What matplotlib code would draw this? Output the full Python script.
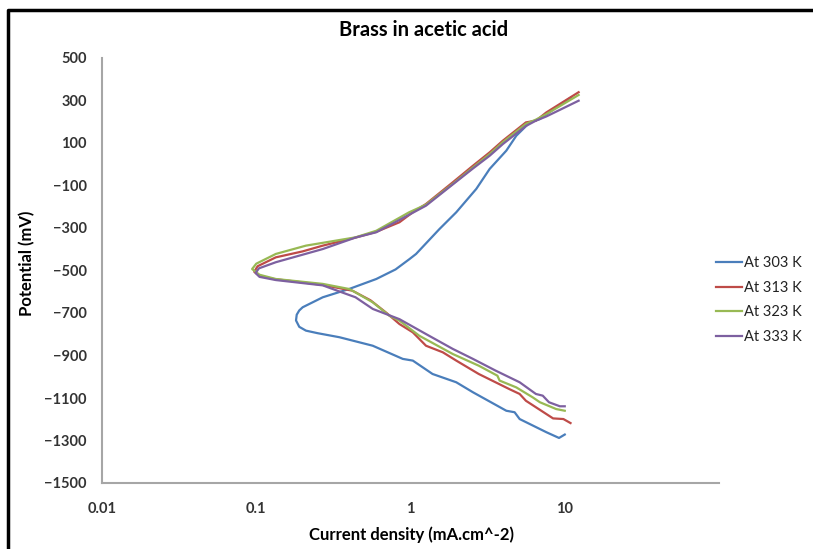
import matplotlib
matplotlib.use("Agg")
import matplotlib.pyplot as plt
from matplotlib.lines import Line2D

plt.rcParams['font.family'] = ['Lato', 'DejaVu Sans']

labels = ["At 303 K", "At 313 K", "At 323 K", "At 333 K"]
colors = ["#4A7EBB", "#BE4B48", "#98B954", "#7D60A0"]

# current density (mA/cm2) and potential (mV), cathodic end -> anodic end
cd_303 = [10.0, 9.18, 7.6, 5.1, 4.73, 4.18, 2.54, 1.98, 1.39, 1.035, 0.891, 0.569,
          0.346, 0.25, 0.21, 0.19, 0.181, 0.183, 0.19, 0.20, 0.27, 0.40, 0.60, 0.80, 0.986,
          1.087, 1.54, 1.98, 2.67, 3.26, 4.18, 4.85, 5.93, 6.9, 8.5, 11.0]
mv_303 = [-1272, -1288, -1261, -1199, -1167, -1160, -1073, -1026, -987, -924, -916, -854,
          -814, -795, -783, -765, -735, -708, -688, -673, -626, -587, -540, -495, -446,
          -422, -305, -226, -116, -22, 64, 134, 197, 213, 260, 315]

cd_313 = [10.9, 9.8, 8.4, 5.6, 5.1, 4.37, 2.77, 1.98, 1.62, 1.26, 1.035, 0.848, 0.7,
          0.55, 0.42, 0.27, 0.18, 0.13, 0.105, 0.097, 0.102, 0.134, 0.2, 0.27, 0.44,
          0.6, 0.848, 1.035, 1.26, 1.88, 2.54, 3.26, 3.97, 5.6, 6.5, 7.6, 12.3]
mv_313 = [-1218, -1199, -1196, -1113, -1081, -1058, -987, -924, -885, -854, -791, -752, -700,
          -640, -595, -568, -552, -540, -525, -506, -480, -438, -410, -383, -345,
          -318, -273, -226, -187, -85, -7, 56, 111, 197, 205, 244, 339]

cd_323 = [10.0, 8.8, 6.9, 6.2, 4.85, 3.78, 3.66, 2.77, 1.88, 1.14, 0.848, 0.73, 0.57,
          0.44, 0.40, 0.27, 0.134, 0.105, 0.094, 0.1, 0.134, 0.21, 0.44, 0.6, 0.98,
          1.26, 1.88, 2.54, 3.26, 3.97, 5.6, 6.5, 7.6, 12.3]
mv_323 = [-1160, -1152, -1120, -1097, -1050, -1018, -995, -948, -893, -807, -736, -713, -650,
          -603, -587, -563, -540, -520, -493, -468, -422, -383, -344, -313, -226,
          -190, -92, -15, 48, 104, 190, 210, 236, 326]

cd_333 = [10.0, 9.3, 7.9, 7.2, 6.5, 5.1, 3.56, 2.54, 1.88, 1.26, 0.848, 0.57, 0.44, 0.35,
          0.27, 0.134, 0.105, 0.099, 0.104, 0.134, 0.27, 0.44, 0.6, 0.848, 1.26,
          1.88, 2.54, 3.26, 3.97, 5.6, 6.5, 7.6, 12.3]
mv_333 = [-1139, -1139, -1120, -1089, -1081, -1026, -971, -916, -869, -799, -729, -681, -626, -600,
          -570, -545, -530, -512, -490, -461, -399, -345, -320, -262, -195,
          -95, -20, 40, 95, 180, 205, 225, 299]

series = [(cd_303, mv_303), (cd_313, mv_313), (cd_323, mv_323), (cd_333, mv_333)]

fig = plt.figure(figsize=(8.13, 5.49), dpi=100)
ax = fig.add_axes([102 / 813, 1 - 483 / 549, 617 / 813, 425 / 549])

for (x, y), c, lab in zip(series, colors, labels):
    ax.plot(x, y, color=c, lw=1.6, label=lab, solid_joinstyle='round')

ax.set_xscale('log')
ax.set_xlim(0.01, 100)
ax.set_ylim(-1500, 500)
ax.set_xticks([0.01, 0.1, 1, 10])
ax.set_xticklabels(["0.01", "0.1", "1", "10"])
ax.set_yticks(range(-1500, 501, 200))
ax.minorticks_off()
ax.tick_params(axis='both', length=0, labelsize=10.5, colors='#333333')
ax.tick_params(axis='x', pad=14)
ax.tick_params(axis='y', pad=11)
for t in ax.get_xticklabels() + ax.get_yticklabels():
    t.set_fontweight('bold')

for s in ['top', 'right']:
    ax.spines[s].set_visible(False)
for s in ['left', 'bottom']:
    ax.spines[s].set_color('#a6a6a6')
    ax.spines[s].set_linewidth(1.5)

fig.text(424 / 813, 1 - 30 / 549, "Brass in acetic acid", ha='center', va='center',
         fontsize=14.5, fontweight='bold')
fig.text(27 / 813, 1 - 263 / 549, "Potential (mV)", ha='center', va='center',
         rotation=90, fontsize=12, fontweight='bold')
fig.text(411 / 813, 1 - 535 / 549, "Current density (mA.cm^-2)", ha='center', va='center',
         fontsize=12, fontweight='bold')

leg = fig.legend(loc='center left', bbox_to_anchor=(716 / 813, 1 - 300 / 549), frameon=False,
                 fontsize=10.5, handlelength=1.75, handletextpad=0.15, labelspacing=0.72,
                 borderpad=0, borderaxespad=0)
for t in leg.get_texts():
    t.set_color('#222222')

# outer chart border
fig.add_artist(Line2D([8 / 813, 8 / 813, 1.01], [-0.01, 1 - 10 / 549, 1 - 10 / 549],
                      transform=fig.transFigure, color='black', lw=2.5))

fig.savefig("out.png", dpi=100)
